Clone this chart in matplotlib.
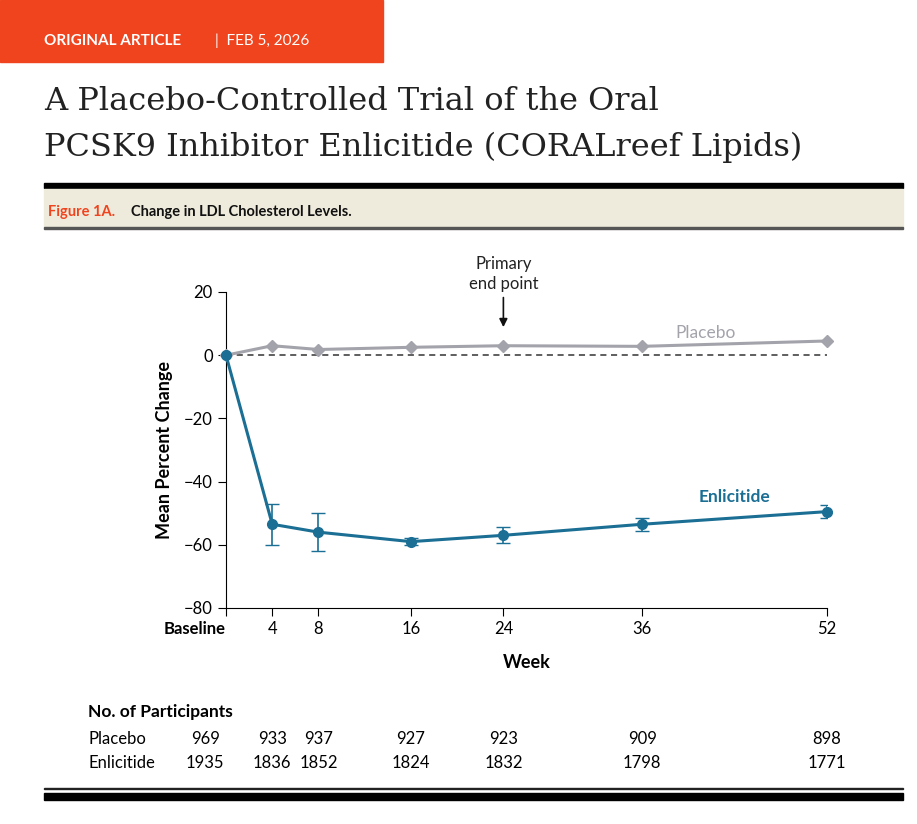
import matplotlib
matplotlib.use("Agg")
import matplotlib.pyplot as plt
from matplotlib.patches import Rectangle

weeks = [0, 4, 8, 16, 24, 36, 52]
placebo = [0, 3.0, 1.8, 2.5, 3.0, 2.8, 4.5]
enlicitide = [0, -53.5, -56.0, -59.0, -57.0, -53.5, -49.5]
enl_err = [0, 6.5, 6.0, 1.0, 2.5, 2.0, 2.0]
xtick_labels = ["Baseline", "4", "8", "16", "24", "36", "52"]
n_placebo = [969, 933, 937, 927, 923, 909, 898]
n_enlicitide = [1935, 1836, 1852, 1824, 1832, 1798, 1771]

W, H = 917, 824
fig = plt.figure(figsize=(W/100, H/100), dpi=100)
def fx(x): return x / W
def fy(y): return 1 - y / H

GRAY = "#a3a3ab"
BLUE = "#1b6e94"
ORANGE = "#f0441f"
sans = "Lato"

# header
fig.patches.append(Rectangle((0, fy(62)), fx(383), 62/H, transform=fig.transFigure, color=ORANGE))
fig.text(fx(44), fy(45), "ORIGINAL ARTICLE", color="white", fontsize=11, fontweight="bold", family=sans, va="baseline")
fig.text(fx(215), fy(45), "|  FEB 5, 2026", color="white", fontsize=11, family=sans, va="baseline")
fig.text(fx(44), fy(110), "A Placebo-Controlled Trial of the Oral", fontsize=23, family="DejaVu Serif", va="baseline", color="#222")
fig.text(fx(44), fy(156), "PCSK9 Inhibitor Enlicitide (CORALreef Lipids)", fontsize=23, family="DejaVu Serif", va="baseline", color="#222")

fig.patches.append(Rectangle((fx(44), fy(188)), fx(903-44), 5/H, transform=fig.transFigure, color="black"))
fig.patches.append(Rectangle((fx(44), fy(226)), fx(903-44), 37/H, transform=fig.transFigure, color="#efebdc"))
fig.patches.append(Rectangle((fx(44), fy(229)), fx(903-44), 1.5/H, transform=fig.transFigure, color="#555"))
fig.text(fx(48), fy(212), "Figure 1A.", color=ORANGE, fontsize=10.5, family=sans, fontweight="bold", va="center")
fig.text(fx(131), fy(212), "Change in LDL Cholesterol Levels.", color="#111", fontsize=10.5, family=sans, fontweight="bold", va="center")

# axes
x0, x1 = 226, 827
y_top, y_bot = 292, 608
ax = fig.add_axes([fx(x0), fy(y_bot), fx(x1) - fx(x0), (y_bot - y_top)/H])
ax.set_xlim(0, 52)
ax.set_ylim(-80, 20)
ax.set_clip_on(False)
for s in ["top", "right"]:
    ax.spines[s].set_visible(False)
ax.spines["left"].set_position(("outward", 0))
ax.spines["left"].set_bounds(-80, 20)
ax.set_xticks(weeks)
ax.set_xticklabels(xtick_labels, fontsize=12, family=sans)
ax.get_xticklabels()[0].set_fontweight("bold")
ax.get_xticklabels()[0].set_horizontalalignment("right")
ax.set_yticks([20, 0, -20, -40, -60, -80])
ax.set_yticklabels(["20", "0", "\u221220", "\u221240", "\u221260", "\u221280"], fontsize=12, family=sans)
ax.tick_params(direction="out", length=6)
ax.axhline(0, color="#333", ls=(0, (4, 3)), lw=1.1, zorder=1)
ax.plot(weeks, placebo, color=GRAY, lw=2.2, marker="D", ms=6, clip_on=False, zorder=3)
ax.errorbar(weeks[1:], enlicitide[1:], yerr=enl_err[1:], fmt="none", ecolor=BLUE, elinewidth=1.2, capsize=5, zorder=3)
ax.plot(weeks, enlicitide, color=BLUE, lw=2.2, marker="o", ms=7, clip_on=False, zorder=4)
ax.set_ylabel("Mean Percent Change", fontsize=13, family=sans, fontweight="bold", labelpad=8)
ax.set_xlabel("Week", fontsize=13, family=sans, fontweight="bold", labelpad=12)
ax.text(41.5, 4.5, "Placebo", color=GRAY, fontsize=12.5, family=sans, ha="center", va="bottom")
ax.text(44, -47.5, "Enlicitide", color=BLUE, fontsize=12.5, family=sans, fontweight="bold", ha="center", va="bottom")
ax.annotate("Primary\nend point", xy=(24, 8), xytext=(24, 20), ha="center", va="bottom",
            fontsize=12, family=sans, color="#222", linespacing=1.3,
            arrowprops=dict(arrowstyle="-|>", color="#111", lw=1.2))

# table
fig.text(fx(88), fy(712), "No. of Participants", fontsize=12.5, family=sans, fontweight="bold", va="center")
fig.text(fx(88), fy(739), "Placebo", fontsize=12, family=sans, va="center")
fig.text(fx(88), fy(763), "Enlicitide", fontsize=12, family=sans, va="center")
tr = ax.get_xaxis_transform()
import matplotlib.transforms as mt
blend = mt.blended_transform_factory(ax.transData, fig.transFigure)
for w, a, b in zip(weeks, n_placebo, n_enlicitide):
    xx = w + (-1.8 if w == 0 else 0)
    fig.text(xx, fy(739), str(a), transform=blend, ha="center", va="center", fontsize=12, family=sans)
    fig.text(xx, fy(763), str(b), transform=blend, ha="center", va="center", fontsize=12, family=sans)

fig.patches.append(Rectangle((fx(44), fy(789)), fx(903-44), 1.5/H, transform=fig.transFigure, color="#222"))
fig.patches.append(Rectangle((fx(44), fy(800)), fx(903-44), 7/H, transform=fig.transFigure, color="black"))

fig.savefig("out.png", dpi=100, facecolor="white")
